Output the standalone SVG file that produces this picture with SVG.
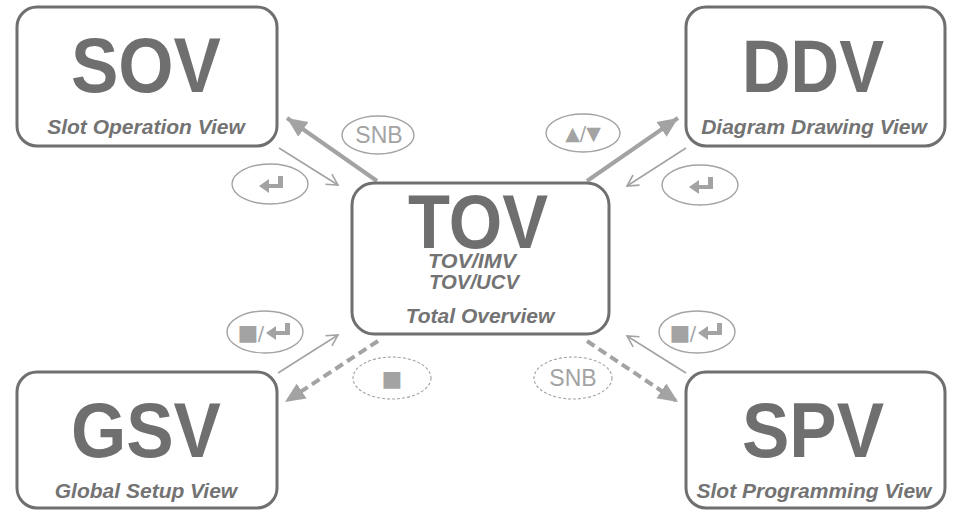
<svg xmlns="http://www.w3.org/2000/svg" width="956" height="513" viewBox="0 0 956 513">
<style>
.box{fill:#fff;stroke:#6f6f6f;stroke-width:3}
.big{font-family:"Liberation Sans",Arial,sans-serif;font-weight:bold;fill:#6f6f6f;text-anchor:middle}
.sub{font-family:"Liberation Sans",Arial,sans-serif;font-weight:bold;font-style:italic;fill:#737373;text-anchor:middle;font-size:21px}
.thick{stroke:#a3a3a3;stroke-width:4;fill:none}
.dash{stroke-dasharray:9 5}
.thin{stroke:#a3a3a3;stroke-width:1.6;fill:none}
.ell{fill:#fff;stroke:#a3a3a3;stroke-width:1.4}
.dot{stroke-dasharray:3 2;stroke-width:1.1}
.lbl{font-family:"Liberation Sans",Arial,sans-serif;fill:#a3a3a3;text-anchor:middle;font-size:23px}
.sym{font-family:"DejaVu Sans",sans-serif;fill:#a3a3a3;text-anchor:middle;font-size:19px}
.sq{font-family:"DejaVu Sans",sans-serif;fill:#a3a3a3;text-anchor:middle;font-size:22px}
.ico{fill:#a3a3a3}
</style>
<defs>
<marker id="tri" markerUnits="userSpaceOnUse" markerWidth="22" markerHeight="22" viewBox="0 0 22 22" refX="20" refY="11" orient="auto">
<path d="M0,2 L20,11 L0,20 Z" fill="#a3a3a3"/>
</marker>
<marker id="open" markerUnits="userSpaceOnUse" markerWidth="16" markerHeight="16" viewBox="0 0 16 16" refX="14" refY="8" orient="auto">
<path d="M3,2 L14,8 L3,14" fill="none" stroke="#a3a3a3" stroke-width="1.6"/>
</marker>
<path id="enter" d="M0,10 L10,3 L10,8 L19,8 L19,0 L24,0 L24,12 L10,12 L10,17 Z"/>
</defs>

<g id="connectors">
<line class="thick" x1="377" y1="181" x2="287" y2="118" marker-end="url(#tri)"/>
<line class="thin" x1="279" y1="148" x2="338" y2="185" marker-end="url(#open)"/>
<line class="thick" x1="587" y1="181" x2="678" y2="118" marker-end="url(#tri)"/>
<line class="thin" x1="686" y1="148" x2="627" y2="186" marker-end="url(#open)"/>
<line class="thick dash" x1="378" y1="341" x2="285" y2="402" marker-end="url(#tri)"/>
<line class="thin" x1="278" y1="373" x2="338" y2="335" marker-end="url(#open)"/>
<line class="thick dash" x1="587" y1="341" x2="678" y2="402" marker-end="url(#tri)"/>
<line class="thin" x1="686" y1="373" x2="627" y2="336" marker-end="url(#open)"/>

<g id="lbl-snb-top">
<ellipse class="ell" cx="378" cy="135" rx="36" ry="19"/>
<text class="lbl" x="379" y="143">SNB</text>
</g>
<g id="lbl-enter-sov">
<ellipse class="ell" cx="270" cy="184" rx="38" ry="20"/>
<use href="#enter" class="ico" x="259" y="176"/>
</g>
<g id="lbl-updown">
<ellipse class="ell" cx="583" cy="133" rx="37" ry="19"/>
<text class="sym" x="583" y="140">▲/▼</text>
</g>
<g id="lbl-enter-ddv">
<ellipse class="ell" cx="700" cy="185" rx="38" ry="20"/>
<use href="#enter" class="ico" x="689" y="177"/>
</g>
<g id="lbl-stop-enter-gsv">
<ellipse class="ell" cx="265" cy="332" rx="38" ry="21"/>
<text class="sq" x="248" y="340">■</text>
<text class="sym" x="261" y="340">/</text>
<use href="#enter" class="ico" x="266" y="323"/>
</g>
<g id="lbl-stop">
<ellipse class="ell dot" cx="392" cy="378" rx="39" ry="21"/>
<text class="sq" x="392" y="386">■</text>
</g>
<g id="lbl-stop-enter-spv">
<ellipse class="ell" cx="697" cy="332" rx="38" ry="21"/>
<text class="sq" x="680" y="340">■</text>
<text class="sym" x="693" y="340">/</text>
<use href="#enter" class="ico" x="698" y="323"/>
</g>
<g id="lbl-snb-bottom">
<ellipse class="ell dot" cx="573" cy="378" rx="39" ry="21"/>
<text class="lbl" x="573" y="386">SNB</text>
</g>
</g>

<g id="sov">
<rect class="box" x="17" y="7" width="260" height="139" rx="20"/>
<text class="big" x="146" y="92" font-size="77" textLength="150" lengthAdjust="spacingAndGlyphs">SOV</text>
<text class="sub" x="146" y="134">Slot Operation View</text>
</g>
<g id="ddv">
<rect class="box" x="686" y="7" width="259" height="139" rx="20"/>
<text class="big" x="813" y="92" font-size="74" textLength="142" lengthAdjust="spacingAndGlyphs">DDV</text>
<text class="sub" x="814" y="134">Diagram Drawing View</text>
</g>
<g id="tov">
<rect class="box" x="352" y="183" width="257" height="151" rx="22"/>
<text class="big" x="478" y="248" font-size="76" textLength="140" lengthAdjust="spacingAndGlyphs">TOV</text>
<text class="sub" x="472" y="268" font-size="19" textLength="88" lengthAdjust="spacingAndGlyphs">TOV/IMV</text>
<text class="sub" x="474" y="289" font-size="19" textLength="90" lengthAdjust="spacingAndGlyphs">TOV/UCV</text>
<text class="sub" x="480" y="323">Total Overview</text>
</g>
<g id="gsv">
<rect class="box" x="17" y="372" width="260" height="136" rx="20"/>
<text class="big" x="146" y="457" font-size="77" textLength="150" lengthAdjust="spacingAndGlyphs">GSV</text>
<text class="sub" x="146" y="498">Global Setup View</text>
</g>
<g id="spv">
<rect class="box" x="686" y="372" width="259" height="136" rx="20"/>
<text class="big" x="813" y="457" font-size="77" textLength="142" lengthAdjust="spacingAndGlyphs">SPV</text>
<text class="sub" x="814" y="498">Slot Programming View</text>
</g>
</svg>
